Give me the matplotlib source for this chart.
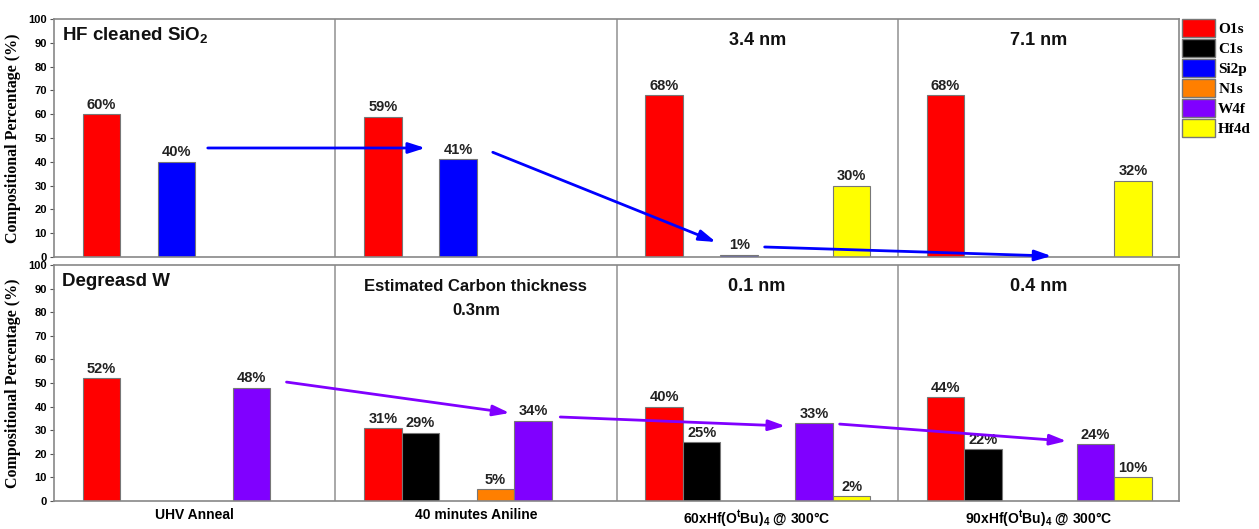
import numpy as np
import matplotlib
matplotlib.use('Agg')
import matplotlib.pyplot as plt
from matplotlib.patches import Patch

elements = ['O1s', 'C1s', 'Si2p', 'N1s', 'W4f', 'Hf4d']
colors = ['#ff0000', '#000000', '#0000ff', '#ff7f00', '#8000ff', '#ffff00']

groups = ['UHV Anneal', '40 minutes Aniline',
          '60xHf(O$^{\\mathregular{t}}$Bu)$_{\\mathregular{4}}$ @ 300°C',
          '90xHf(O$^{\\mathregular{t}}$Bu)$_{\\mathregular{4}}$ @ 300°C']

# rows: groups, cols: elements (O1s, C1s, Si2p, N1s, W4f, Hf4d)
top_vals = [[60, 0, 40, 0, 0, 0],
            [59, 0, 41, 0, 0, 0],
            [68, 0, 1, 0, 0, 30],
            [68, 0, 0, 0, 0, 32]]
bot_vals = [[52, 0, 0, 0, 48, 0],
            [31, 29, 0, 5, 34, 0],
            [40, 25, 0, 0, 33, 2],
            [44, 22, 0, 0, 24, 10]]

top_notes = ['HF cleaned SiO$_\\mathregular{2}$', '', '3.4 nm', '7.1 nm']
bot_notes = ['Degreasd W', 'Estimated Carbon thickness\n0.3nm', '0.1 nm', '0.4 nm']

# arrows (x, y start) -> (x, y end), in data units
top_arrows = [((4.1, 45.8), (9.9, 45.8)),
              ((11.7, 44.0), (17.65, 6.3)),
              ((18.95, 4.2), (26.6, 0.4))]
bot_arrows = [((6.2, 50.4), (12.15, 37.3)),
              ((13.5, 35.6), (19.5, 31.8)),
              ((20.95, 32.6), (27.0, 25.4))]

gw = 7.5
pad = 0.77
sans = 'Liberation Sans'
serif = 'Liberation Serif'

fig = plt.figure(figsize=(12.59, 5.29), dpi=100)
ax1 = fig.add_axes([0.0429, 0.5142, 0.8936, 0.4499])
ax2 = fig.add_axes([0.0429, 0.0529, 0.8936, 0.4461])


def draw(ax, vals, notes, arrows, acolor):
    vals = np.array(vals)
    for g in range(len(groups)):
        for j in range(len(elements)):
            v = vals[g, j]
            if v <= 0:
                continue
            x = g * gw + pad + j + 0.5
            ax.bar(x, v, width=1.0, color=colors[j], edgecolor='#777777', linewidth=0.8)
            ax.text(x, v + 1, f'{v}%', ha='center', va='bottom', fontsize=10.5,
                    fontweight='bold', family=sans, color='#222222')
        if g > 0:
            ax.axvline(g * gw, color='#999999', lw=1.2)
    for g, note in enumerate(notes):
        if not note:
            continue
        if g == 0:
            ax.text(0.2, 93, note, ha='left', va='center', fontsize=13.5,
                    fontweight='bold', family=sans, color='#111111')
        elif '\n' in note:
            ax.text(g * gw + gw / 2, 94, note, ha='center', va='top',
                    fontsize=12, fontweight='bold', family=sans,
                    color='#111111', linespacing=1.75)
        else:
            ax.text(g * gw + gw / 2, 91, note, ha='center', va='center',
                    fontsize=13, fontweight='bold', family=sans, color='#111111')
    for (s, e) in arrows:
        ax.annotate('', xy=e, xytext=s,
                    arrowprops=dict(arrowstyle='-|>,head_length=1.0,head_width=0.32',
                                    color=acolor, lw=2, shrinkA=0, shrinkB=0))
    ax.set_xlim(0, len(groups) * gw)
    ax.set_ylim(0, 100)
    ax.set_yticks(np.arange(0, 101, 10))
    ax.tick_params(axis='y', labelsize=8, length=3, width=0.8, color='#555555', pad=2)
    for lab in ax.get_yticklabels():
        lab.set_fontweight('bold')
        lab.set_family(sans)
    for sp in ax.spines.values():
        sp.set_color('#888888')
        sp.set_linewidth(1.2)
    ax.set_ylabel('Compositional Percentage (%)', family=serif, fontweight='bold',
                  fontsize=11.5, labelpad=5)


draw(ax1, top_vals, top_notes, top_arrows, '#0000ff')
draw(ax2, bot_vals, bot_notes, bot_arrows, '#8000ff')

ax1.set_xticks([])
ax2.set_xticks([g * gw + gw / 2 for g in range(len(groups))])
ax2.set_xticklabels(groups, fontsize=10, fontweight='bold', family=sans)
ax2.tick_params(axis='x', length=0, pad=5)

handles = [Patch(facecolor=c, edgecolor='#777777', label=e) for e, c in zip(elements, colors)]
fig.legend(handles=handles, loc='upper left', bbox_to_anchor=(0.9385, 0.964),
           frameon=False, borderaxespad=0, borderpad=0, handlelength=2.2, handleheight=1.45,
           labelspacing=0.12, handletextpad=0.2,
           prop={'family': serif, 'weight': 'bold', 'size': 11})

fig.savefig('out.png', dpi=100)
